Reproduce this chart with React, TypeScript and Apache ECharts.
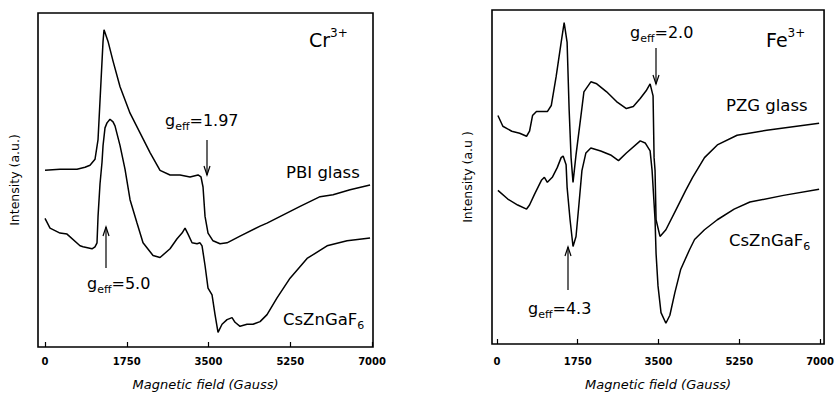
import React, { useEffect, useRef } from "react";
import * as echarts from "echarts";

const fieldTicks = [0, 1750, 3500, 5250, 7000];

// Cr3+ panel – PBI glass
const crPbiField = [0, 321, 685, 856, 963, 1070, 1135, 1199, 1242, 1263, 1349, 1456, 1606, 1820, 2034, 2248, 2462, 2676, 2890, 3104, 3275, 3339, 3382, 3425, 3489, 3596, 3746, 3896, 4174, 4603, 4752, 5459, 5887, 6165, 6529, 6957];
const crPbiInt = [52.9, 53.2, 53.2, 53.8, 54.4, 56.2, 62.1, 79.7, 91.5, 95.0, 91.5, 85.6, 77.9, 70.0, 64.1, 58.2, 52.9, 51.5, 51.5, 50.9, 51.5, 50.9, 47.9, 39.1, 34.1, 31.8, 30.9, 31.2, 33.2, 36.2, 37.1, 42.1, 45.0, 45.6, 47.1, 48.5];

// Cr3+ panel – CsZnGaF6
const crCsField = [0, 107, 321, 471, 749, 813, 1006, 1070, 1113, 1135, 1177, 1220, 1242, 1284, 1327, 1391, 1456, 1498, 1606, 1713, 1820, 1969, 2098, 2312, 2462, 2676, 2826, 2933, 2997, 3061, 3147, 3254, 3318, 3361, 3425, 3489, 3575, 3639, 3703, 3789, 3896, 4003, 4067, 4174, 4324, 4452, 4603, 4752, 4966, 5245, 5609, 6037, 6465, 6957];
const crCsInt = [38.5, 35.6, 34.1, 33.8, 30.3, 30.0, 29.4, 30.0, 31.2, 39.1, 48.8, 55.3, 60.3, 65.6, 67.1, 68.2, 67.4, 66.2, 60.3, 53.2, 44.1, 37.1, 31.2, 27.4, 26.8, 29.4, 32.4, 34.1, 35.6, 33.8, 31.2, 30.9, 31.2, 30.3, 24.4, 17.6, 15.6, 9.7, 4.4, 6.8, 8.2, 8.8, 7.4, 6.2, 6.8, 6.8, 7.6, 9.7, 14.7, 20.6, 26.5, 30.3, 31.8, 32.6];

// Fe3+ panel – PZG glass
const fePzgField = [21, 128, 321, 492, 642, 706, 771, 856, 1092, 1177, 1284, 1391, 1456, 1520, 1563, 1606, 1648, 1713, 1820, 1884, 2034, 2162, 2376, 2590, 2804, 2954, 3104, 3232, 3318, 3382, 3404, 3425, 3447, 3532, 3660, 3875, 4089, 4239, 4496, 4774, 5202, 5844, 6979];
const fePzgInt = [68.4, 65.2, 63.7, 63.1, 62.2, 63.7, 68.4, 69.6, 69.6, 71.4, 80.2, 90.3, 96.2, 90.3, 70.5, 55.8, 48.4, 56.6, 68.4, 75.5, 78.5, 77.9, 75.5, 72.6, 70.5, 71.1, 73.5, 75.8, 77.9, 74.3, 55.8, 51.9, 37.2, 32.2, 34.2, 40.1, 46.0, 49.9, 55.8, 59.6, 62.5, 64.0, 66.1];

// Fe3+ panel – CsZnGaF6
const feCsField = [21, 235, 450, 642, 706, 813, 963, 1028, 1092, 1199, 1306, 1391, 1434, 1498, 1520, 1584, 1648, 1713, 1777, 1841, 1927, 2034, 2248, 2462, 2633, 2804, 3104, 3211, 3318, 3361, 3425, 3447, 3489, 3554, 3660, 3746, 3853, 3982, 4174, 4281, 4496, 4774, 5138, 5480, 6208, 6979];
const feCsInt = [46.0, 43.4, 41.6, 40.4, 41.6, 44.8, 49.0, 49.9, 48.4, 49.9, 52.8, 55.8, 56.3, 53.7, 46.9, 37.2, 29.2, 32.2, 41.9, 51.9, 57.2, 58.7, 57.8, 56.6, 54.9, 57.2, 60.8, 60.2, 57.8, 51.9, 37.2, 27.1, 17.4, 9.4, 6.2, 8.6, 15.3, 22.4, 28.3, 31.3, 34.2, 37.2, 40.4, 42.5, 44.5, 46.3];

const FONT = "DejaVu Sans, sans-serif";

const zip = (xs: number[], ys: number[]) => xs.map((x, i) => [x, ys[i]]);

const richG = {
  sub: { fontSize: 11, fontFamily: FONT, verticalAlign: "bottom" },
  base: { fontSize: 16, fontFamily: FONT, lineHeight: 23, verticalAlign: "middle" },
};
const richSup = {
  sup: { fontSize: 12, fontFamily: FONT, verticalAlign: "top" },
  base: { fontSize: 19, fontFamily: FONT, lineHeight: 26, verticalAlign: "middle" },
};
const richName = {
  sub: { fontSize: 11, fontFamily: FONT, verticalAlign: "bottom" },
  base: { fontSize: 16.5, fontFamily: FONT, lineHeight: 23, verticalAlign: "middle" },
};

function label(x: number, y: number, text: string, rich: any) {
  return {
    type: "text",
    x,
    y,
    style: { text, rich, fill: "#000", fontFamily: FONT, fontSize: 16, verticalAlign: "middle", align: "left" },
  };
}

function arrow(x: number, y1: number, y2: number) {
  const dir = y2 > y1 ? -1 : 1;
  return [
    { type: "line", shape: { x1: x, y1, x2: x, y2 }, style: { stroke: "#000", lineWidth: 1.2 } },
    {
      type: "polyline",
      shape: { points: [[x - 3, y2 + dir * 9], [x, y2], [x + 3, y2 + dir * 9]] },
      style: { stroke: "#000", lineWidth: 1.2, fill: null },
    },
  ];
}

function xAxisFor(gridIndex: number, min: number, max: number, labelMargin: number, nameGap: number) {
  return {
    type: "value",
    gridIndex,
    min,
    max,
    axisLine: { show: false },
    splitLine: { show: false },
    axisTick: { show: true, inside: true, length: 5, customValues: fieldTicks, lineStyle: { color: "#000", width: 1.2 } },
    axisLabel: {
      customValues: fieldTicks,
      formatter: (v: number) => String(v),
      color: "#000",
      fontSize: 10,
      fontWeight: "bold",
      fontFamily: FONT,
      margin: labelMargin,
    },
    name: "Magnetic field (Gauss)",
    nameLocation: "middle",
    nameGap,
    nameTextStyle: { color: "#000", fontSize: 13, fontStyle: "italic", fontFamily: FONT },
  };
}

function yAxisFor(gridIndex: number, name: string, nameGap: number) {
  return {
    type: "value",
    gridIndex,
    min: 0,
    max: 100,
    axisLine: { show: false },
    axisTick: { show: false },
    axisLabel: { show: false },
    splitLine: { show: false },
    name,
    nameLocation: "middle",
    nameGap,
    nameTextStyle: { color: "#000", fontSize: 12.5, fontFamily: FONT },
  };
}

function lineSeries(idx: number, xs: number[], ys: number[], name: string) {
  return {
    type: "line",
    name,
    xAxisIndex: idx,
    yAxisIndex: idx,
    data: zip(xs, ys),
    showSymbol: false,
    smooth: false,
    lineStyle: { color: "#000", width: 1.5 },
  };
}

export default function App() {
  const ref = useRef<HTMLDivElement>(null);
  useEffect(() => {
    if (!ref.current) return;
    const chart = echarts.init(ref.current, null, { renderer: "svg" });
    chart.setOption({
      animation: false,
      backgroundColor: "#fff",
      grid: [
        { left: 38, top: 13, width: 335, height: 340, show: true, borderColor: "#000", borderWidth: 1.6, backgroundColor: "transparent" },
        { left: 492, top: 10, width: 336, height: 339, show: true, borderColor: "#000", borderWidth: 1.6, backgroundColor: "transparent" },
      ],
      xAxis: [xAxisFor(0, -150, 7020, 9, 31), xAxisFor(1, -107, 7086, 12, 34)],
      yAxis: [yAxisFor(0, "Intensity (a.u.)", 17), yAxisFor(1, "Intensity (a.u )", 18)],
      series: [
        lineSeries(0, crPbiField, crPbiInt, "PBI glass"),
        lineSeries(0, crCsField, crCsInt, "CsZnGaF6"),
        lineSeries(1, fePzgField, fePzgInt, "PZG glass"),
        lineSeries(1, feCsField, feCsInt, "CsZnGaF6"),
      ],
      graphic: [
        label(309, 40, "{base|Cr}{sup|3+}", richSup),
        label(165, 120, "{base|g}{sub|eff}{base|=1.97}", richG),
        ...arrow(207, 140, 175),
        label(286, 172, "{base|PBI glass}", richName),
        label(87, 283, "{base|g}{sub|eff}{base|=5.0}", richG),
        ...arrow(106, 268, 227),
        label(283, 319, "{base|CsZnGaF}{sub|6}", richName),
        label(766, 40, "{base|Fe}{sup|3+}", richSup),
        label(630, 32, "{base|g}{sub|eff}{base|=2.0}", richG),
        ...arrow(656, 48, 84),
        label(726, 105, "{base|PZG glass}", richName),
        label(729, 240, "{base|CsZnGaF}{sub|6}", richName),
        label(528, 308, "{base|g}{sub|eff}{base|=4.3}", richG),
        ...arrow(568, 290, 247),
      ],
    });
    return () => chart.dispose();
  }, []);
  return (
    <div
      ref={ref}
      style={{ position: "absolute", left: 0, top: 0, width: 837, height: 396, background: "#fff" }}
    />
  );
}
